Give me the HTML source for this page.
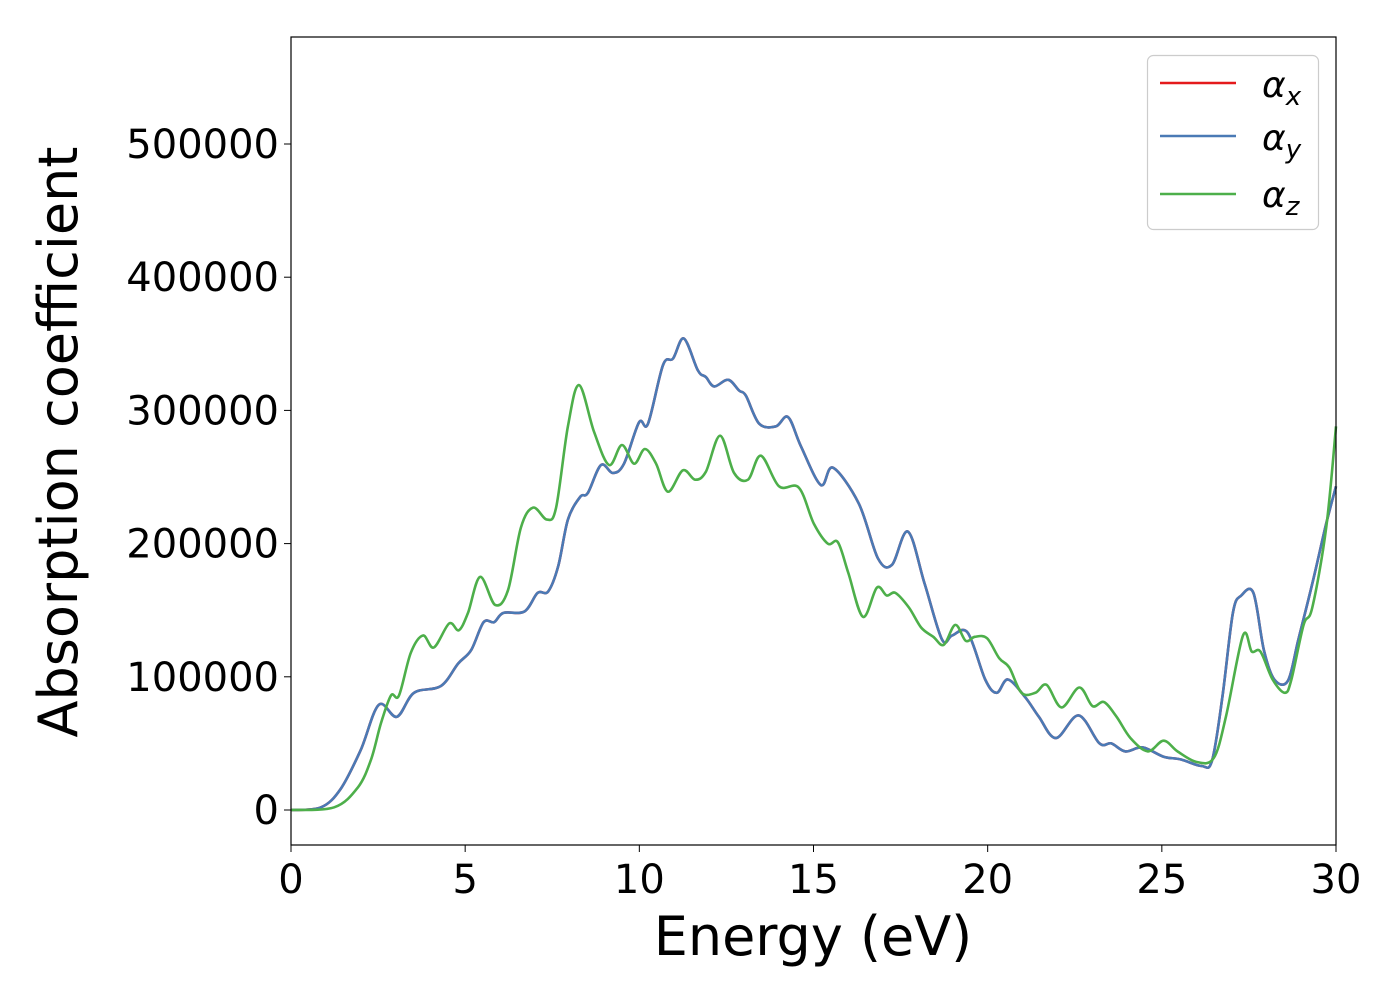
<!DOCTYPE html>
<html><head><meta charset="utf-8"><style>
body{margin:0;background:#fff;}
svg text{font-family:"DejaVu Sans","Liberation Sans",sans-serif;fill:#000;}
</style></head><body>
<svg id="chart" width="1400" height="1000" xmlns="http://www.w3.org/2000/svg">
<rect width="1400" height="1000" fill="#fff"/>
<g id="series"></g>
<rect x="291" y="37" width="1045" height="808" fill="none" stroke="#000" stroke-width="1.2"/>
<g id="xticks"></g>
<g id="yticks"></g>
<text x="813" y="955" font-size="54" text-anchor="middle">Energy (eV)</text>
<text transform="translate(77,442) rotate(-90)" font-size="54" text-anchor="middle">Absorption coefficient</text>
<g>
<rect x="1147.5" y="55.5" width="171" height="174" rx="6" fill="#fff" fill-opacity="0.8" stroke="#ccc" stroke-width="1.2"/>
<line x1="1160" y1="83" x2="1236" y2="83" stroke="#e41a1c" stroke-width="2.6"/>
<line x1="1160" y1="136" x2="1236" y2="136" stroke="#4a7ab5" stroke-width="2.6"/>
<line x1="1160" y1="194" x2="1236" y2="194" stroke="#4daf4a" stroke-width="2.6"/>
<text x="1262" y="97" font-size="36" font-style="italic">α<tspan font-size="26" dy="8">x</tspan></text>
<text x="1262" y="150" font-size="36" font-style="italic">α<tspan font-size="26" dy="8">y</tspan></text>
<text x="1262" y="207" font-size="36" font-style="italic">α<tspan font-size="26" dy="8">z</tspan></text>
</g>
</svg>
<script>
const energyXY=[0,0.86,1.43,2.0,2.52,3.04,3.53,4.3,4.8,5.17,5.53,5.83,6.1,6.7,7.08,7.38,7.67,7.95,8.3,8.52,8.9,9.24,9.56,9.99,10.25,10.68,10.97,11.28,11.68,11.91,12.15,12.55,12.86,13.06,13.44,13.92,14.27,14.64,15.21,15.56,16.3,16.85,17.25,17.71,18.19,18.69,18.98,19.43,19.93,20.26,20.58,21.07,21.47,21.96,22.61,23.21,23.55,23.95,24.45,25.05,25.54,26.14,26.44,26.74,27.04,27.28,27.63,27.93,28.23,28.62,28.92,29.32,29.72,30];
const alphaX=[0,2,16,45,79,70,88,93,110,120,141,141,148,149,163,164,183,218,235,238,259,253,260,291,290,334,339,354,330,325,318,323,315,311,290,288,295,273,244,257,230,189,184,209,170,128,131,133,98,88,98,85,70,54,71,50,50,44,47,40,38,33,37,85,148,161,163,120,98,97,128,170,215,243];
const alphaY=alphaX.slice();
const energyZ=[0,1.24,1.92,2.3,2.58,2.87,3.1,3.44,3.79,4.1,4.54,4.82,5.08,5.43,5.86,6.23,6.6,6.95,7.35,7.61,7.95,8.27,8.7,9.13,9.5,9.85,10.16,10.48,10.82,11.25,11.6,11.91,12.32,12.72,13.12,13.49,14.01,14.58,15.01,15.41,15.7,16.0,16.42,16.82,17.1,17.35,17.74,18.09,18.44,18.74,19.07,19.37,19.63,19.98,20.33,20.62,20.97,21.37,21.69,22.12,22.63,23.01,23.34,23.7,24.1,24.6,25.05,25.45,26.0,26.49,26.84,27.33,27.58,27.83,28.18,28.53,28.72,29.07,29.32,29.72,30];
const alphaZ=[0,2,17,38,65,86,86,118,131,122,140,135,148,175,154,165,212,227,218,227,288,319,284,259,274,260,271,260,239,255,248,254,281,253,248,266,243,242,215,200,201,178,145,167,161,163,152,137,130,124,139,127,130,129,114,107,88,88,94,77,92,78,81,70,54,44,52,44,36,39,70,131,119,119,98,88,98,139,152,212,288];
const xTicks=[0,5,10,15,20,25,30];
const yTicks=[0,100000,200000,300000,400000,500000];
const NS="http://www.w3.org/2000/svg";
function sx(e){return 291+e*(1045/30);}
function sy(v){return 810-v*(666/500000);}
function pathFrom(es,vs){
  const p=es.map((e,i)=>[sx(e),sy(vs[i]*1000)]);
  let d="M"+p[0][0]+","+p[0][1];
  for(let i=0;i<p.length-1;i++){
    const p0=p[i-1]||p[i],p1=p[i],p2=p[i+1],p3=p[i+2]||p2;
    const c1=[p1[0]+(p2[0]-p0[0])/6,p1[1]+(p2[1]-p0[1])/6];
    const c2=[p2[0]-(p3[0]-p1[0])/6,p2[1]-(p3[1]-p1[1])/6];
    d+=" C"+c1[0].toFixed(1)+","+c1[1].toFixed(1)+" "+c2[0].toFixed(1)+","+c2[1].toFixed(1)+" "+p2[0].toFixed(1)+","+p2[1].toFixed(1);
  }
  return d;
}
const sg=document.getElementById("series");
function addLine(es,vs,color,name){
  const el=document.createElementNS(NS,"path");
  el.setAttribute("d",pathFrom(es,vs));
  el.setAttribute("fill","none");el.setAttribute("stroke",color);el.setAttribute("stroke-width","2.6");
  
  
  sg.appendChild(el);
}
addLine(energyXY,alphaX,"#e41a1c","line-alpha-x");
addLine(energyXY,alphaY,"#4a7ab5","line-alpha-y");
addLine(energyZ,alphaZ,"#4daf4a","line-alpha-z");
const xg=document.getElementById("xticks");
xTicks.forEach(t=>{
  const l=document.createElementNS(NS,"line");
  l.setAttribute("x1",sx(t));l.setAttribute("x2",sx(t));l.setAttribute("y1",845);l.setAttribute("y2",852);l.setAttribute("stroke","#000");
  
  
  xg.appendChild(l);
  const tx=document.createElementNS(NS,"text");
  tx.setAttribute("x",sx(t));tx.setAttribute("y",893);tx.setAttribute("font-size","40");tx.setAttribute("text-anchor","middle");
  tx.textContent=t;
  
  
  xg.appendChild(tx);
});
const yg=document.getElementById("yticks");
yTicks.forEach(t=>{
  const l=document.createElementNS(NS,"line");
  l.setAttribute("x1",284);l.setAttribute("x2",291);l.setAttribute("y1",sy(t));l.setAttribute("y2",sy(t));l.setAttribute("stroke","#000");
  
  
  yg.appendChild(l);
  const tx=document.createElementNS(NS,"text");
  tx.setAttribute("x",279);tx.setAttribute("y",sy(t)+14);tx.setAttribute("font-size","40");tx.setAttribute("text-anchor","end");
  tx.textContent=t;
  
  
  yg.appendChild(tx);
});
</script>
</body></html>
